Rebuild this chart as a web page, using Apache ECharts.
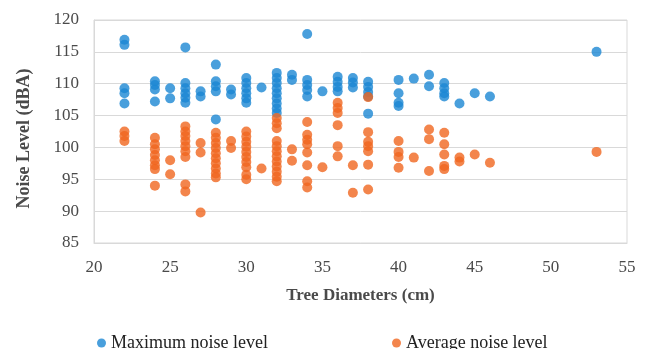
<!DOCTYPE html>
<html>
<head>
<meta charset="utf-8">
<script src="https://cdn.jsdelivr.net/npm/echarts@6/dist/echarts.min.js"></script>
<style>
  html, body { margin: 0; padding: 0; background: #fff; }
  #chart { width: 647px; height: 349px; }
</style>
</head>
<body>
<div id="chart"></div>
<script>
// x axis ticks (tree diameter, cm) and y axis ticks (dBA)
const xTicks = [20, 25, 30, 35, 40, 45, 50, 55]
const yTicks = [85, 90, 95, 100, 105, 110, 115, 120]

// [diameter, maximum noise level]
const maxNoise = [
  [22, 116.9], [22, 116.1], [22, 109.3], [22, 108.5], [22, 106.9],
  [24, 110.4], [24, 109.8], [24, 109.1], [24, 107.2],
  [25, 109.3], [25, 107.7],
  [26, 115.7], [26, 110.1], [26, 109.3], [26, 108.5], [26, 107.8], [26, 107.0],
  [27, 108.8], [27, 108.0],
  [28, 113.0], [28, 110.4], [28, 109.6], [28, 108.8], [28, 104.4],
  [29, 109.1], [29, 108.3],
  [30, 110.9], [30, 110.1], [30, 109.3], [30, 108.5], [30, 107.7], [30, 107.0],
  [31, 109.4],
  [32, 111.7], [32, 110.9], [32, 110.1], [32, 109.3], [32, 108.5], [32, 107.7], [32, 106.9], [32, 106.1], [32, 105.4],
  [33, 111.4], [33, 110.6],
  [34, 117.8], [34, 110.6], [34, 109.8], [34, 109.0], [34, 108.0],
  [35, 108.8],
  [36, 111.1], [36, 110.3], [36, 109.5], [36, 108.8],
  [37, 110.9], [37, 110.2], [37, 109.4],
  [38, 110.3], [38, 109.5], [38, 108.7], [38, 108.0], [38, 105.3],
  [40, 110.6], [40, 108.5], [40, 107.0], [40, 106.5],
  [41, 110.8],
  [42, 111.4], [42, 109.6],
  [43, 110.1], [43, 109.3], [43, 108.5], [43, 108.0],
  [44, 106.9],
  [45, 108.5],
  [46, 108.0],
  [53, 115.0]
]

// [diameter, average noise level]
const avgNoise = [
  [22, 102.5], [22, 101.8], [22, 101.0],
  [24, 101.5], [24, 100.5], [24, 99.7], [24, 98.8], [24, 98.0], [24, 97.2], [24, 96.6], [24, 94.0],
  [25, 98.0], [25, 95.8],
  [26, 103.3], [26, 102.5], [26, 101.8], [26, 101.0], [26, 100.2], [26, 99.4], [26, 98.5], [26, 94.2], [26, 93.1],
  [27, 100.7], [27, 99.2], [27, 89.8],
  [28, 102.3], [28, 101.5], [28, 100.7], [28, 99.9], [28, 99.1], [28, 98.3], [28, 97.5], [28, 96.7], [28, 95.9], [28, 95.3],
  [29, 101.0], [29, 99.9],
  [30, 102.5], [30, 101.7], [30, 100.9], [30, 100.1], [30, 99.3], [30, 98.5], [30, 97.7], [30, 96.9], [30, 95.7], [30, 95.0],
  [31, 96.7],
  [32, 104.6], [32, 103.8], [32, 103.0], [32, 101.0], [32, 100.2], [32, 99.4], [32, 98.6], [32, 97.8], [32, 97.0], [32, 96.2], [32, 95.4], [32, 94.7],
  [33, 99.7], [33, 97.9],
  [34, 104.0], [34, 102.0], [34, 101.2], [34, 100.5], [34, 99.2], [34, 97.2], [34, 94.7], [34, 93.7],
  [35, 96.9],
  [36, 107.0], [36, 106.2], [36, 105.4], [36, 103.5], [36, 100.2], [36, 98.6],
  [37, 97.2], [37, 92.9],
  [38, 107.9], [38, 102.4], [38, 100.9], [38, 100.2], [38, 99.4], [38, 97.3], [38, 93.4],
  [40, 101.0], [40, 99.3], [40, 98.5], [40, 96.8],
  [41, 98.4],
  [42, 102.8], [42, 101.3], [42, 96.3],
  [43, 102.3], [43, 100.5], [43, 98.9], [43, 97.1], [43, 96.6],
  [44, 98.4], [44, 97.8],
  [45, 98.9],
  [46, 97.6],
  [53, 99.3]
]

const seriesNames = ['Maximum noise level', 'Average noise level']
const seriesColors = ['#1b87d3', '#f0661f']

const chart = echarts.init(document.getElementById('chart'), null, { renderer: 'canvas' })
const serif = 'Liberation Serif'
const gridColor = '#d9d9d9'
const labelColor = '#4a4a4a'

chart.setOption({
  animation: false,
  grid: {
    left: 94, right: 20, top: 20, bottom: 106,
    show: true, borderColor: gridColor, borderWidth: 1
  },
  legend: [
    {
      data: [seriesNames[0]], left: 92, top: 329, icon: 'circle',
      itemWidth: 9, itemHeight: 9, itemGap: 10,
      textStyle: { fontFamily: serif, fontSize: 18, color: '#222' }
    },
    {
      data: [seriesNames[1]], left: 387, top: 329, icon: 'circle',
      itemWidth: 9, itemHeight: 9, itemGap: 10,
      textStyle: { fontFamily: serif, fontSize: 18, color: '#222' }
    }
  ],
  xAxis: {
    type: 'value',
    min: xTicks[0], max: xTicks[xTicks.length - 1], interval: 5,
    name: 'Tree Diameters (cm)', nameLocation: 'middle', nameGap: 44,
    nameTextStyle: { fontFamily: serif, fontSize: 17, fontWeight: 'bold', color: labelColor },
    axisLine: { show: true, lineStyle: { color: gridColor } },
    axisTick: { show: false },
    splitLine: { show: false },
    axisLabel: { fontFamily: serif, fontSize: 17, color: labelColor, margin: 16 }
  },
  yAxis: {
    type: 'value',
    min: yTicks[0], max: yTicks[yTicks.length - 1], interval: 5,
    name: 'Noise Level (dBA)', nameLocation: 'middle', nameGap: 61, nameRotate: 90,
    nameTextStyle: { fontFamily: serif, fontSize: 18, fontWeight: 'bold', color: labelColor, padding: [0, 14, 0, 0] },
    axisLine: { show: true, lineStyle: { color: gridColor } },
    axisTick: { show: false },
    splitLine: { show: true, lineStyle: { color: gridColor } },
    axisLabel: { fontFamily: serif, fontSize: 17, color: labelColor, margin: 15 }
  },
  series: [
    {
      name: seriesNames[0], type: 'scatter', data: maxNoise,
      symbol: 'circle', symbolSize: 10,
      itemStyle: { color: seriesColors[0] }
    },
    {
      name: seriesNames[1], type: 'scatter', data: avgNoise,
      symbol: 'circle', symbolSize: 10,
      itemStyle: { color: seriesColors[1] }
    }
  ]
})
</script>
</body>
</html>
